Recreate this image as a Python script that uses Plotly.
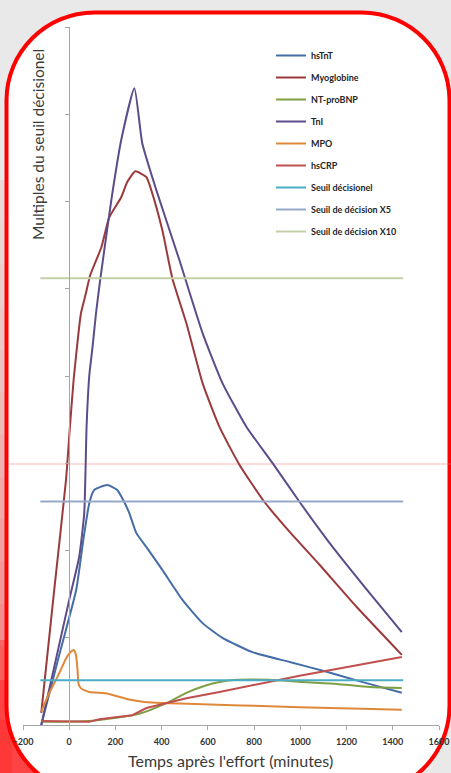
import plotly.graph_objects as go

# ---------------- data ----------------
x_tnt = [-121, -43, 30, 61, 87, 108, 165, 208, 238, 260, 290, 334, 403, 490, 577, 663, 793, 954, 1114, 1270, 1439]
y_tnt = [0, 1.57, 3.02, 4.14, 4.97, 5.26, 5.37, 5.26, 4.99, 4.74, 4.30, 3.98, 3.47, 2.80, 2.28, 1.95, 1.63, 1.41, 1.19, 0.96, 0.72]

x_myo = [-121, -65, -14, 3, 19, 40, 51, 72, 91, 139, 173, 225, 251, 286, 334, 355, 403, 446, 507, 577, 650, 737, 845, 954, 1084, 1244, 1439]
y_myo = [0.27, 3.02, 5.48, 6.67, 7.72, 8.77, 9.22, 9.66, 10.07, 10.69, 11.36, 11.81, 12.15, 12.39, 12.26, 11.97, 11.07, 10.0, 8.99, 7.65, 6.67, 5.82, 4.99, 4.32, 3.58, 2.64, 1.57]

x_bnp = [-121, 87, 204, 303, 420, 507, 594, 650, 724, 867, 1010, 1157, 1300, 1439]
y_bnp = [0.07, 0.09, 0.16, 0.25, 0.49, 0.72, 0.89, 0.96, 1.01, 1.01, 0.96, 0.92, 0.85, 0.83]

x_tni = [-121, 0, 43, 65, 75, 87, 101, 116, 134, 182, 225, 282, 316, 377, 477, 577, 663, 767, 880, 997, 1127, 1300, 1439]
y_tni = [0, 2.80, 3.76, 4.74, 6.67, 7.83, 8.46, 9.22, 9.96, 11.74, 13.09, 14.25, 13.02, 11.97, 10.4, 8.77, 7.65, 6.67, 5.86, 4.99, 4.07, 2.95, 2.08]

x_mpo = [-121, -87, -43, -14, 7, 19, 29, 36, 40, 51, 87, 159, 202, 260, 318, 376, 477, 997, 1439]
y_mpo = [0.30, 0.71, 1.16, 1.49, 1.64, 1.68, 1.57, 1.23, 0.93, 0.82, 0.74, 0.71, 0.65, 0.57, 0.52, 0.50, 0.48, 0.40, 0.34]

x_crp = [-121, 87, 130, 273, 334, 420, 507, 650, 997, 1439]
y_crp = [0.09, 0.07, 0.13, 0.22, 0.38, 0.49, 0.60, 0.74, 1.10, 1.52]

x_seuil = [-125, 1445]
seuil_1 = [1, 1]
seuil_5 = [5, 5]
seuil_10 = [10, 10]

x_ticks = [-200, 0, 200, 400, 600, 800, 1000, 1200, 1400, 1600]

# ---------------- figure geometry ----------------
W, H = 451, 773
L, R, T, B = 23, 12, 27, 48
PW, PH = W - L - R, H - T - B
YMAX = 15.62


def px(x):
    return (x - L) / PW


def py(y):
    return (H - B - y) / PH


fig = go.Figure()

series = [
    ("hsTnT", x_tnt, y_tnt, "#456ea6", "spline"),
    ("Myoglobine", x_myo, y_myo, "#9b3a3a", "spline"),
    ("NT-proBNP", x_bnp, y_bnp, "#7f9f45", "spline"),
    ("TnI", x_tni, y_tni, "#5d4c8a", "spline"),
    ("MPO", x_mpo, y_mpo, "#e0883a", "spline"),
    ("hsCRP", x_crp, y_crp, "#c0504d", "linear"),
    ("Seuil décisionel", x_seuil, seuil_1, "#4bacc6", "linear"),
    ("Seuil de décision X5", x_seuil, seuil_5, "#96a9c9", "linear"),
    ("Seuil de décision X10", x_seuil, seuil_10, "#c3cfa6", "linear"),
]
for name, xs, ys, col, shp in series:
    line = dict(color=col, width=2, shape=shp)
    if shp == "spline":
        line["smoothing"] = 0.5
    fig.add_trace(go.Scatter(x=xs, y=ys, mode="lines", name=name,
                             legendgroup=name, line=line))

# ---------------- decorative background ----------------
shapes = []
steps = 14
for i in range(steps):
    y0 = 180 + i * (H - 180) / steps
    y1 = 180 + (i + 1) * (H - 180) / steps
    a = 0.08 + 0.55 * (i / (steps - 1)) ** 1.3
    shapes.append(dict(type="rect", xref="paper", yref="paper", layer="below",
                       x0=px(-5), x1=px(12), y0=py(y0), y1=py(y1),
                       fillcolor=f"rgba(255,40,40,{a:.3f})", line=dict(width=0)))
for i, a in enumerate([0.45, 0.55, 0.62]):
    shapes.append(dict(type="rect", xref="paper", yref="paper", layer="below",
                       x0=px(-5), x1=px(90 - i * 25), y0=py(640 + i * 40), y1=py(H + 5),
                       fillcolor=f"rgba(255,50,50,{a})", line=dict(width=0)))

x0, x1, y0, y1, r = 6.5, 449.5, 12.5, 794, 88
k = 0.5523 * r


def P(x, y):
    return f"{px(x):.5f},{py(y):.5f}"


path = (
    f"M {P(x0 + r, y0)} L {P(x1 - r, y0)} "
    f"C {P(x1 - r + k, y0)} {P(x1, y0 + r - k)} {P(x1, y0 + r)} "
    f"L {P(x1, y1 - r)} "
    f"C {P(x1, y1 - r + k)} {P(x1 - r + k, y1)} {P(x1 - r, y1)} "
    f"L {P(x0 + r, y1)} "
    f"C {P(x0 + r - k, y1)} {P(x0, y1 - r + k)} {P(x0, y1 - r)} "
    f"L {P(x0, y0 + r)} "
    f"C {P(x0, y0 + r - k)} {P(x0 + r - k, y0)} {P(x0 + r, y0)} Z"
)
shapes.append(dict(type="path", xref="paper", yref="paper", layer="below", path=path,
                   fillcolor="white", line=dict(color="#ff0000", width=4)))
shapes.append(dict(type="line", xref="paper", yref="paper", layer="below",
                   x0=px(8), x1=px(W), y0=py(464), y1=py(464),
                   line=dict(color="rgba(255,120,120,0.55)", width=1)))

fig.update_layout(
    width=W, height=H,
    margin=dict(l=L, r=R, t=T, b=B, autoexpand=False),
    paper_bgcolor="#e9e9e9",
    plot_bgcolor="rgba(0,0,0,0)",
    shapes=shapes,
    showlegend=True,
    legend=dict(
        x=px(271), y=py(41), xanchor="left", yanchor="top",
        font=dict(family="Lato", size=9, color="#262626", weight="bold"),
        bgcolor="rgba(0,0,0,0)", tracegroupgap=3, traceorder="grouped",
        itemwidth=30,
    ),
    xaxis=dict(
        range=[-200, 1600], tickvals=x_ticks, showgrid=False, zeroline=False,
        showline=True, linecolor="#a6a6a6", linewidth=1, automargin=False,
        ticks="outside", ticklen=4, tickcolor="#a6a6a6", ticklabelstandoff=4,
        tickfont=dict(family="Lato", size=9, color="#333333", weight="bold"),
    ),
    yaxis=dict(
        range=[0, YMAX], dtick=YMAX / 8, showgrid=False, zeroline=False,
        showline=True, linecolor="#a6a6a6", linewidth=1, automargin=False,
        ticks="outside", ticklen=4, tickcolor="#a6a6a6",
        showticklabels=False, anchor="free", position=200 / 1800,
    ),
    annotations=[
        dict(text="Multiples du seuil décisionel", xref="paper", yref="paper",
             x=px(38), y=py(145), xanchor="center", yanchor="middle",
             textangle=-90, showarrow=False,
             font=dict(family="Lato", size=15.5, color="#3a3a3a")),
        dict(text="Temps après l'effort (minutes)", xref="paper", yref="paper",
             x=px(230), y=py(761), xanchor="center", yanchor="middle",
             showarrow=False,
             font=dict(family="Lato", size=16, color="#3a3a3a")),
    ],
)

fig.write_html(
    "out.html",
    config={"displayModeBar": False},
    post_script="document.body.style.margin='0';document.body.style.overflow='hidden';",
)
